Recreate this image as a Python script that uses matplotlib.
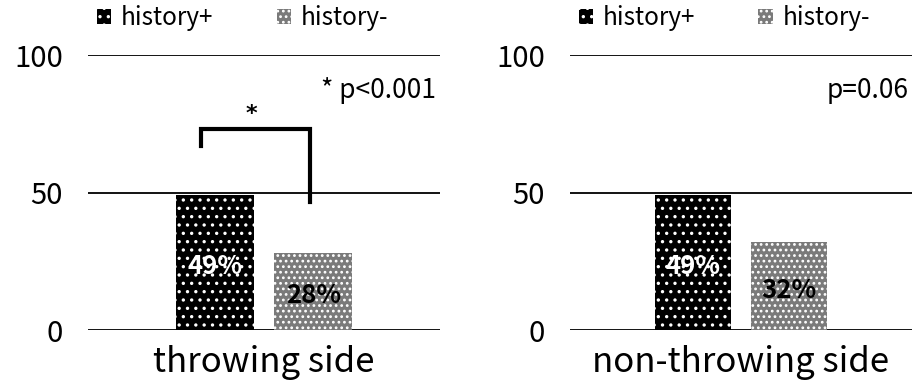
import matplotlib.pyplot as plt
import matplotlib as mpl

plt.rcParams['font.family'] = ['Noto Sans CJK JP', 'DejaVu Sans']
mpl.rcParams['hatch.linewidth'] = 1.2

panels = ['throwing side', 'non-throwing side']
groups = ['history+', 'history-']
pos_vals = [49, 49]
neg_vals = [28, 32]
p_texts = ['* p<0.001', 'p=0.06']
yticks = [0, 50, 100]

fig = plt.figure(figsize=(9.14, 3.86), dpi=100)
axes = [fig.add_axes([0.0963, 0.145, 0.385, 0.712]),
        fig.add_axes([0.6236, 0.145, 0.374, 0.712])]

for i, ax in enumerate(axes):
  for y in yticks:
    ax.axhline(y, color='black', lw=1.3, zorder=1)
  ax.bar(0.36, pos_vals[i], width=0.222, color='black', edgecolor='white',
         hatch='..', lw=0, zorder=2, label=groups[0])
  ax.bar(0.64, neg_vals[i], width=0.222, color='#7a7a7a', edgecolor='white',
         hatch='...', lw=0, zorder=2, label=groups[1])
  ax.text(0.36, pos_vals[i] / 2 - 1.5, '%d%%' % pos_vals[i], color='white',
          ha='center', va='center', fontsize=18.5, fontweight='bold', zorder=3)
  ax.text(0.64, neg_vals[i] / 2 - 1.5, '%d%%' % neg_vals[i], color='black',
          ha='center', va='center', fontsize=18.5, fontweight='bold', zorder=3)
  ax.set_xlim(0, 1)
  ax.set_ylim(0, 100)
  ax.set_yticks(yticks)
  ax.set_xticks([0.5])
  ax.set_xticklabels([panels[i]], fontsize=25)
  ax.tick_params(axis='y', length=0, pad=18, labelsize=21)
  ax.tick_params(axis='x', length=0, pad=11)
  for s in ax.spines.values():
    s.set_visible(False)
  ax.text(0.99, 87, p_texts[i], ha='right', va='center', fontsize=19)
  ax.legend(loc='center left', bbox_to_anchor=(0.025, 1.135), ncol=2, frameon=False,
            fontsize=17.5, handlelength=0.6, handleheight=0.6, handletextpad=0.4,
            columnspacing=2.6, borderaxespad=0, borderpad=0)

# significance bracket on the throwing side
ax = axes[0]
ax.plot([0.321, 0.321, 0.631, 0.631], [67, 73, 73, 46.5], color='black', lw=3,
        solid_joinstyle='miter', zorder=4)
ax.text(0.465, 78.5, '*', ha='center', va='center', fontsize=16,
        fontweight='bold', family='DejaVu Sans')

plt.savefig('out.png', dpi=100)
